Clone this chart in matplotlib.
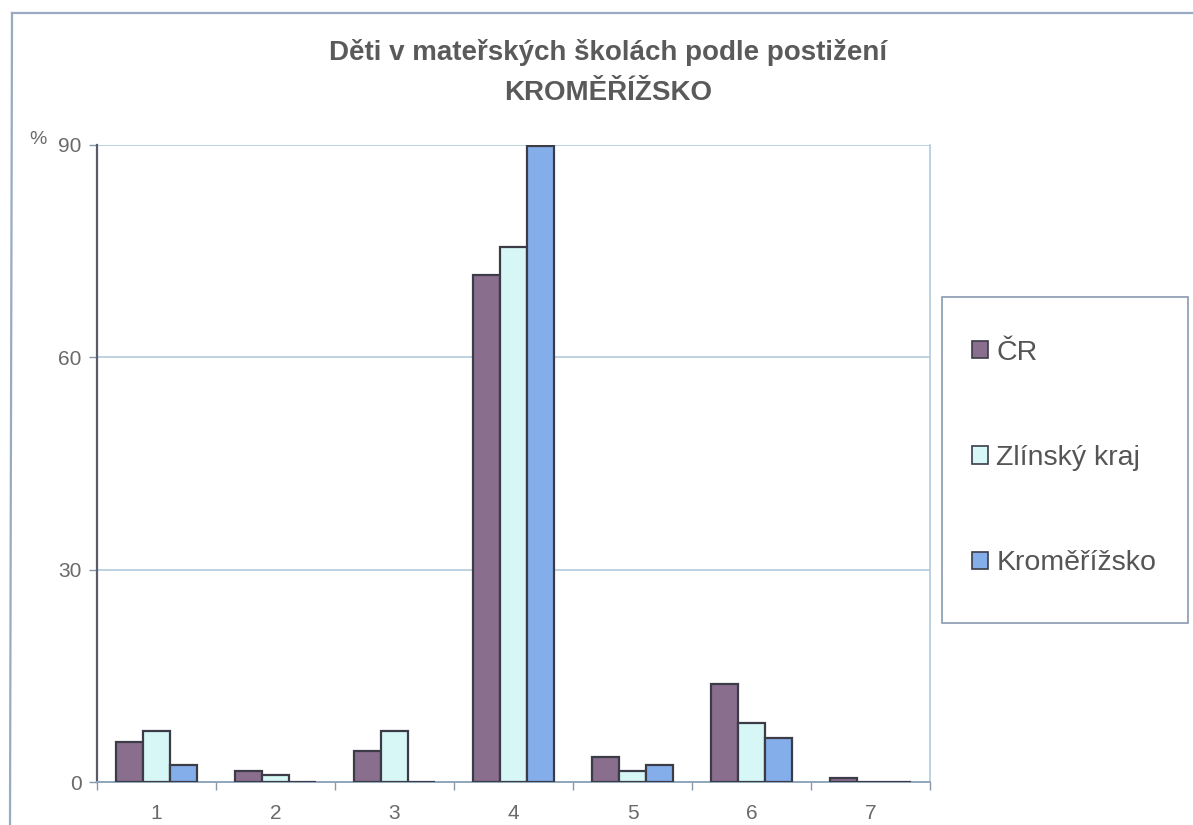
import matplotlib
matplotlib.use("Agg")
import matplotlib.pyplot as plt
from matplotlib.lines import Line2D
from matplotlib.patches import Rectangle
import numpy as np

plt.rcParams['font.family'] = ['Liberation Sans', 'DejaVu Sans']

# Categories of disability (1-7) and shares of children in kindergartens (%)
categories = ["1", "2", "3", "4", "5", "6", "7"]
series_names = ["ČR", "Zlínský kraj", "Kroměřížsko"]
cr = [5.6, 1.5, 4.4, 71.6, 3.5, 13.8, 0.6]
zlinsky = [7.2, 1.0, 7.2, 75.6, 1.5, 8.4, 0.0]
kromerizsko = [2.4, 0.0, 0.0, 89.9, 2.4, 6.2, 0.0]
y_ticks = [0, 30, 60, 90]

title_line1 = "Děti v mateřských školách podle postižení"
title_line2 = "KROMĚŘÍŽSKO"

colors = ["#8a6e8e", "#d6f7f6", "#84aeea"]
edge = "#3c3c48"
grid_col = "#a9c6da"
text_col = "#6a6a6a"

W, H = 1193, 825
fig = plt.figure(figsize=(W / 100, H / 100), dpi=100)
fig.patch.set_facecolor("white")

ax = fig.add_axes([97 / W, 1 - 782 / H, (930 - 97) / W, (782 - 145) / H])

x = np.arange(len(categories))
w = 0.225
for i, (vals, name) in enumerate(zip([cr, zlinsky, kromerizsko], series_names)):
    ax.bar(x + (i - 1) * w, vals, width=w, color=colors[i], edgecolor=edge,
           linewidth=1.6, label=name, zorder=3)

ax.set_xlim(-0.5, len(categories) - 0.5)
ax.set_ylim(0, 90)
ax.set_yticks(y_ticks)
ax.set_yticklabels([str(t) for t in y_ticks])
ax.yaxis.grid(True, color=grid_col, linewidth=1.1, zorder=0)
ax.set_axisbelow(True)

ax.set_xticks(x)
ax.set_xticklabels(categories)
ax.set_xticks(np.arange(-0.5, len(categories), 1.0), minor=True)
ax.tick_params(axis="x", which="major", length=0, pad=16, labelsize=15, labelcolor=text_col)
ax.tick_params(axis="x", which="minor", length=6, width=1, color="#8898aa", direction="out")
ax.tick_params(axis="y", length=6, width=1, color="#8898aa", pad=5, labelsize=15,
               labelcolor=text_col)

ax.spines["left"].set_color("#5a5a68")
ax.spines["left"].set_linewidth(1.6)
ax.spines["bottom"].set_color("#8fa6bc")
ax.spines["bottom"].set_linewidth(1.4)
ax.spines["right"].set_color(grid_col)
ax.spines["right"].set_linewidth(1.1)
ax.spines["top"].set_visible(False)

# unit label above the value axis
fig.text(38 / W, 1 - 139 / H, "%", fontsize=14, color=text_col, ha="center", va="center")

# two-line heading
fig.text(608 / W, 1 - 52 / H, title_line1, fontsize=20, fontweight="bold",
         color="#5a5a5a", ha="center", va="center")
fig.text(608 / W, 1 - 93 / H, title_line2, fontsize=20, fontweight="bold",
         color="#5a5a5a", ha="center", va="center")

# legend entries, with a separate frame box around them
leg = ax.legend(loc="center left", bbox_to_anchor=(972 / W, 1 - 458 / H),
                bbox_transform=fig.transFigure, frameon=False,
                fontsize=20.5, labelspacing=2.78, handlelength=0.55, handleheight=0.55,
                handletextpad=0.3, borderpad=0, borderaxespad=0)
for t in leg.get_texts():
    t.set_color("#555555")
for h in leg.legend_handles:
    h.set_linewidth(1.2)
fig.add_artist(Rectangle((942 / W, 1 - 623 / H), (1188 - 942) / W, (623 - 297) / H,
                         transform=fig.transFigure, fill=False,
                         edgecolor="#8a9ab2", linewidth=1.2))

# outer chart-area border (top and left edges)
fig.add_artist(Line2D([12 / W, 1.0], [1 - 13 / H, 1 - 13 / H],
                      transform=fig.transFigure, color="#9aaac2", linewidth=1.6))
fig.add_artist(Line2D([12 / W, 10 / W], [1 - 13 / H, 0.0],
                      transform=fig.transFigure, color="#9aaac2", linewidth=1.6))

fig.savefig("out.png", dpi=100, facecolor="white")
